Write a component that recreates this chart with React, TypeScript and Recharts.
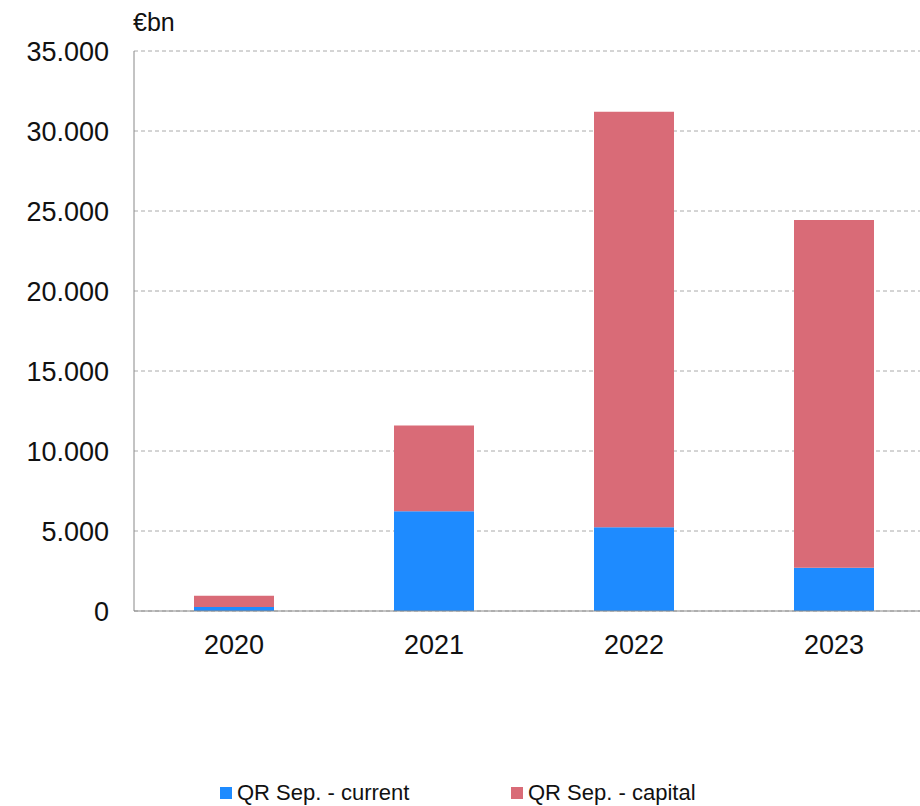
import { BarChart, Bar, XAxis, YAxis, CartesianGrid, Legend, Label } from 'recharts'

const years = ['2020', '2021', '2022', '2023']
const current = [250, 6230, 5230, 2700]
const capital = [700, 5370, 25970, 21740]
const yTicks = [0, 5000, 10000, 15000, 20000, 25000, 30000, 35000]
const seriesOrder = ['QR Sep. - current', 'QR Sep. - capital']

const BLUE = '#1e8bff'
const RED = '#d96b77'
const FONT = '"Liberation Sans", Arial, sans-serif'

const data = years.map((year, i) => ({
  year,
  current: current[i],
  capital: capital[i],
}))

const fmt = (v: number) => (v === 0 ? '0' : v.toLocaleString('de-DE'))

function LegendContent({ payload }: any) {
  const items = [...(payload || [])].sort(
    (a: any, b: any) => seriesOrder.indexOf(a.value) - seriesOrder.indexOf(b.value)
  )
  return (
    <div style={{ display: 'flex', fontFamily: FONT, fontSize: 22, color: '#111' }}>
      {items.map((p: any, i: number) => (
        <div key={p.value} style={{ display: 'flex', alignItems: 'center', width: i === 0 ? 291 : 'auto' }}>
          <span style={{ width: 12, height: 12, background: p.color, marginRight: 5, display: 'inline-block' }} />
          <span>{p.value}</span>
        </div>
      ))}
    </div>
  )
}

export default function App() {
  return (
    <div style={{ position: 'absolute', left: 0, top: 0, width: 920, height: 806, overflow: 'hidden', background: '#fff' }}>
      <BarChart
        width={940}
        height={806}
        data={data}
        margin={{ top: 51, right: 6, left: 0, bottom: 0 }}
        barSize={80}
        style={{ fontFamily: FONT }}
      >
        <CartesianGrid vertical={false} stroke="#aaa" strokeDasharray="4 3" />
        <XAxis
          dataKey="year"
          axisLine={{ stroke: '#888' }}
          tickLine={false}
          tickSize={0}
          tickMargin={24}
          height={169}
          tick={{ fontSize: 27, fill: '#111' }}
        />
        <YAxis
          width={134}
          domain={[0, 35000]}
          ticks={yTicks}
          tickFormatter={fmt}
          axisLine={{ stroke: '#888' }}
          tickLine={false}
          tickSize={0}
          tickMargin={25}
          tick={{ fontSize: 27, fill: '#111' }}
        >
          <Label
            content={({ viewBox }: any) => (
              <text x={viewBox.x + viewBox.width - 1} y={viewBox.y - 20} fontSize={25} fill="#111" textAnchor="start">
                €bn
              </text>
            )}
          />
        </YAxis>
        <Legend
          content={<LegendContent />}
          wrapperStyle={{ position: 'absolute', top: 780, left: 220, width: 620 }}
        />
        <Bar dataKey="current" name="QR Sep. - current" stackId="a" fill={BLUE} isAnimationActive={false} />
        <Bar dataKey="capital" name="QR Sep. - capital" stackId="a" fill={RED} isAnimationActive={false} />
      </BarChart>
    </div>
  )
}
